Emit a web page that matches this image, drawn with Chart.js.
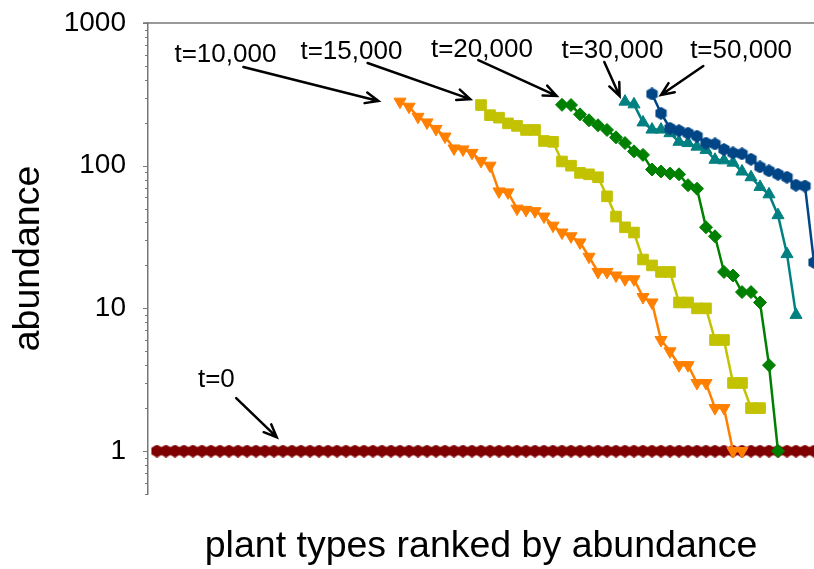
<!DOCTYPE html>
<html>
<head>
<meta charset="utf-8">
<script src="https://cdn.jsdelivr.net/npm/chart.js@4.4.1/dist/chart.umd.min.js"></script>
<style>
  html, body { margin: 0; padding: 0; background: #fff; }
  #wrap { width: 814px; height: 569px; }
</style>
</head>
<body>
<div id="wrap"><canvas id="chart" width="814" height="569"></canvas></div>
<script>
// ranks on x, abundance (log) on y
const rankMin = 0;
const rankMax = 74;
const yMin = 0.5;
const yMax = 1000;
const majorTicks = [1, 10, 100, 1000];
const minorTicks = [0.5, 0.6, 0.7, 0.8, 0.9, 2, 3, 4, 5, 6, 7, 8, 9,
  20, 30, 40, 50, 60, 70, 80, 90, 200, 300, 400, 500, 600, 700, 800, 900];

const seriesNames = ['t=0', 't=10,000', 't=15,000', 't=20,000', 't=30,000', 't=50,000'];
const startRanks = [1, 28, 37, 46, 53, 56];

const t0 = [1, 1, 1, 1, 1, 1, 1, 1, 1, 1, 1, 1, 1, 1, 1, 1, 1, 1, 1, 1, 1, 1, 1, 1, 1,
  1, 1, 1, 1, 1, 1, 1, 1, 1, 1, 1, 1, 1, 1, 1, 1, 1, 1, 1, 1, 1, 1, 1, 1, 1,
  1, 1, 1, 1, 1, 1, 1, 1, 1, 1, 1, 1, 1, 1, 1, 1, 1, 1, 1, 1, 1, 1, 1, 1];
const t10k = [281, 259, 220, 201, 181, 160, 132, 130, 123, 108, 100, 66, 65, 50, 49, 48, 44,
  38, 34, 32, 29, 23, 18, 18, 17, 16, 16, 12, 11, 6, 5, 4, 4, 3, 3, 2, 2, 1, 1];
const t15k = [266, 226, 217, 198, 190, 178, 178, 149, 147, 107, 100, 89, 87, 83, 61, 44, 37,
  34, 22, 20, 18, 18, 11, 11, 10, 10, 6, 6, 3, 3, 2, 2];
const t20k = [267, 266, 229, 208, 192, 178, 158, 144, 126, 119, 94, 91, 88, 87, 73, 69, 37,
  32, 18, 17, 13, 13, 11, 4, 1];
const t30k = [281, 269, 201, 179, 179, 169, 147, 144, 136, 129, 110, 109, 105, 91, 83, 71, 63,
  45, 24, 9];
const t50k = [318, 233, 183, 176, 169, 161, 144, 142, 130, 123, 121, 111, 98, 92, 87, 83, 73,
  72, 21];

// label text position and arrow, in data units (rank, abundance)
const notes = [
  { text: 't=0',      at: [7.6, 3.15], from: [9.8, 2.35],  to: [14.3, 1.25] },
  { text: 't=10,000', at: [8.6, 597],  from: [10.6, 492],  to: [25.6, 284] },
  { text: 't=15,000', at: [22.6, 626], from: [24.4, 524],  to: [35.8, 293] },
  { text: 't=20,000', at: [37.1, 647], from: [36.7, 550],  to: [45.4, 308] },
  { text: 't=30,000', at: [51.6, 637], from: [50.7, 533],  to: [52.4, 308] },
  { text: 't=50,000', at: [65.9, 637], from: [61.7, 500],  to: [57.0, 313] },
];

const FONT = "'Liberation Sans', Arial, Helvetica, sans-serif";

function hexagon(size, color) {
  const c = document.createElement('canvas');
  c.width = c.height = size;
  const g = c.getContext('2d');
  const r = size / 2;
  g.beginPath();
  for (let k = 0; k < 6; k++) {
    const a = -Math.PI / 2 + k * Math.PI / 3;
    const px = r + r * Math.cos(a), py = r + r * Math.sin(a);
    k ? g.lineTo(px, py) : g.moveTo(px, py);
  }
  g.closePath();
  g.fillStyle = color;
  g.fill();
  return c;
}

function series(values, start, color, style, radius, rotation) {
  return {
    data: values.map((v, i) => ({ x: start + i, y: v })),
    borderColor: color,
    backgroundColor: color,
    borderWidth: 2.5,
    pointStyle: style,
    pointRadius: radius,
    pointRotation: rotation || 0,
    pointBackgroundColor: color,
    pointBorderColor: color,
    pointBorderWidth: 1,
    tension: 0,
  };
}

// blue on top, dark red at the bottom
const datasets = [
  series(t50k, startRanks[5], '#004586', hexagon(13, '#004586'), 6.5),
  series(t30k, startRanks[4], '#008080', 'triangle', 7),
  series(t20k, startRanks[3], '#008000', 'rectRot', 6.5),
  series(t15k, startRanks[2], '#c2c200', 'rect', 7.5),
  series(t10k, startRanks[1], '#ff8000', 'triangle', 7, 180),
  series(t0, startRanks[0], '#7f0000', hexagon(13, '#7f0000'), 6.5),
];

const framePlugin = {
  id: 'frame',
  afterDraw(chart) {
    const { ctx, chartArea } = chart;
    const y = chart.scales.y;
    ctx.save();
    ctx.strokeStyle = '#777';
    ctx.lineWidth = 1.5;
    ctx.beginPath();
    ctx.moveTo(chartArea.left - 5, chartArea.top);
    ctx.lineTo(chartArea.right, chartArea.top);
    ctx.stroke();
    ctx.lineWidth = 1;
    ctx.beginPath();
    majorTicks.forEach(v => {
      const p = Math.round(y.getPixelForValue(v)) + 0.5;
      ctx.moveTo(chartArea.left - 5, p); ctx.lineTo(chartArea.left, p);
    });
    minorTicks.forEach(v => {
      const p = Math.round(y.getPixelForValue(v)) + 0.5;
      ctx.moveTo(chartArea.left - 3, p); ctx.lineTo(chartArea.left, p);
    });
    ctx.stroke();
    ctx.restore();
  }
};

const notesPlugin = {
  id: 'notes',
  afterDraw(chart) {
    const { ctx } = chart;
    const sx = chart.scales.x, sy = chart.scales.y;
    const px = p => [sx.getPixelForValue(p[0]), sy.getPixelForValue(p[1])];
    ctx.save();
    ctx.fillStyle = '#000';
    ctx.strokeStyle = '#000';
    ctx.font = `26px ${FONT}`;
    ctx.textAlign = 'center';
    ctx.textBaseline = 'middle';
    ctx.lineWidth = 2.5;
    ctx.lineCap = 'round';
    notes.forEach(n => {
      const [tx, ty] = px(n.at);
      ctx.fillText(n.text, tx, ty);
      const [x1, y1] = px(n.from);
      const [x2, y2] = px(n.to);
      const ang = Math.atan2(y2 - y1, x2 - x1);
      ctx.beginPath();
      ctx.moveTo(x1, y1);
      ctx.lineTo(x2, y2);
      ctx.moveTo(x2 - 14 * Math.cos(ang - 0.4), y2 - 14 * Math.sin(ang - 0.4));
      ctx.lineTo(x2, y2);
      ctx.lineTo(x2 - 14 * Math.cos(ang + 0.4), y2 - 14 * Math.sin(ang + 0.4));
      ctx.stroke();
    });
    ctx.restore();
  }
};

new Chart(document.getElementById('chart'), {
  type: 'line',
  data: { datasets },
  options: {
    responsive: false,
    animation: false,
    layout: { autoPadding: false, padding: { top: 23, right: 0, bottom: 0, left: 0 } },
    plugins: { legend: { display: false }, tooltip: { enabled: false } },
    scales: {
      x: {
        type: 'linear',
        min: rankMin,
        max: rankMax,
        grid: { display: false, drawTicks: false },
        border: { display: false },
        ticks: { display: false },
        title: {
          display: true,
          text: 'plant types ranked by abundance',
          color: '#000',
          font: { family: FONT, size: 37.5 },
          padding: { top: 0, bottom: 0 },
        },
        afterFit(s) {
          s.height = 75;
          s.paddingLeft = 0; s.paddingRight = 0;
        },
      },
      y: {
        type: 'logarithmic',
        min: yMin,
        max: yMax,
        afterBuildTicks(s) {
          s.ticks = minorTicks.concat(majorTicks).sort((a, b) => a - b).map(v => ({ value: v }));
        },
        ticks: {
          autoSkip: false,
          padding: 22,
          color: '#000',
          font: { family: FONT, size: 28 },
          callback: v => majorTicks.includes(v) ? String(v) : '',
        },
        grid: { display: false, drawTicks: false },
        border: { display: true, color: '#777', width: 1.5 },
        title: {
          display: true,
          text: 'abundance',
          color: '#000',
          font: { family: FONT, size: 37.5 },
          padding: { top: 6, bottom: 0 },
        },
        afterFit(s) {
          s.width = 148;
          s.paddingTop = 0; s.paddingBottom = 0;
        },
      },
    },
  },
  plugins: [framePlugin, notesPlugin],
});
</script>
</body>
</html>
